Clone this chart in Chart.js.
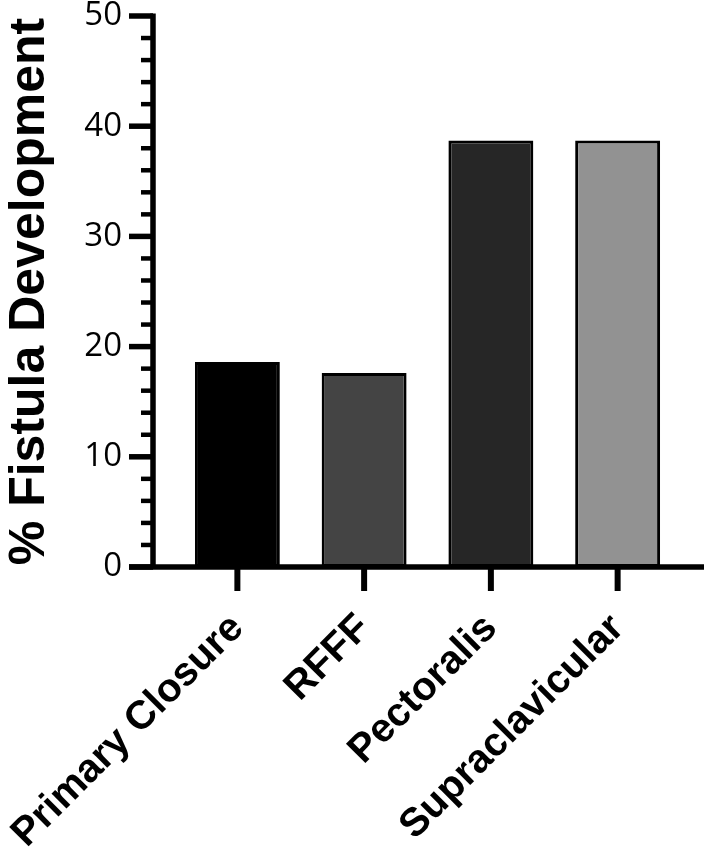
<!DOCTYPE html>
<html>
<head>
<meta charset="utf-8">
<script src="https://cdn.jsdelivr.net/npm/chart.js@4.4.1/dist/chart.umd.min.js"></script>
<style>
  html, body { margin: 0; padding: 0; background: #fff; }
  #wrap { width: 709px; height: 862px; position: relative; }
</style>
</head>
<body>
<div id="wrap"><canvas id="fistulaChart"></canvas></div>
<script>
// data
const categories = ['Primary Closure', 'RFFF', 'Pectoralis', 'Supraclavicular'];
const fistulaPct = [18.6, 17.6, 38.7, 38.7];
const barFills = ['#000000', '#444444', '#262626', '#929292'];
const yMin = 0;
const yMax = 50;
const yMajorStep = 10;
const yMinorStep = 2;

// axes drawn by hand: prism-style offset y axis, extended x axis, minor ticks
const prismAxes = {
  id: 'prismAxes',
  afterDatasetsDraw(chart) {
    const { ctx, chartArea, scales } = chart;
    const y = scales.y, x = scales.x;
    const axisX = chartArea.left - 21;
    const zeroY = y.getPixelForValue(yMin);
    ctx.save();
    ctx.strokeStyle = '#000';
    ctx.lineCap = 'butt';

    // y axis line
    ctx.lineWidth = 5.5;
    ctx.beginPath();
    ctx.moveTo(axisX, y.getPixelForValue(yMax) - 2.5);
    ctx.lineTo(axisX, zeroY);
    ctx.stroke();

    // minor ticks
    ctx.lineWidth = 4.5;
    for (let v = yMin; v <= yMax; v += yMinorStep) {
      if (v % yMajorStep === 0) continue;
      const py = y.getPixelForValue(v);
      ctx.beginPath();
      ctx.moveTo(axisX - 12, py);
      ctx.lineTo(axisX, py);
      ctx.stroke();
    }
    // major ticks
    ctx.lineWidth = 5.5;
    for (let v = yMin; v <= yMax; v += yMajorStep) {
      const py = y.getPixelForValue(v);
      ctx.beginPath();
      ctx.moveTo(axisX - 24, py);
      ctx.lineTo(axisX, py);
      ctx.stroke();
    }

    // x axis line
    ctx.beginPath();
    ctx.moveTo(axisX - 24, zeroY);
    ctx.lineTo(chartArea.right + 23, zeroY);
    ctx.stroke();

    // x ticks
    ctx.lineWidth = 6;
    categories.forEach((c, i) => {
      const px = x.getPixelForValue(i);
      ctx.beginPath();
      ctx.moveTo(px, zeroY);
      ctx.lineTo(px, zeroY + 24);
      ctx.stroke();
    });
    ctx.restore();
  }
};

// keep rotated labels from pushing the plot area around
function noPadding(scale) {
  scale.paddingLeft = 0;
  scale.paddingRight = 0;
  scale.paddingTop = 0;
  scale.paddingBottom = 0;
}

const chartCtx = document.getElementById('fistulaChart');
new Chart(chartCtx, {
  type: 'bar',
  data: {
    labels: categories,
    datasets: [{
      label: '% Fistula Development',
      data: fistulaPct,
      backgroundColor: barFills,
      borderColor: '#000000',
      borderWidth: 3,
      borderSkipped: false,
      barPercentage: 0.67,
      categoryPercentage: 1.0
    }]
  },
  options: {
    responsive: true,
    maintainAspectRatio: false,
    animation: false,
    layout: { autoPadding: false, padding: { top: 16, right: 28, left: 0, bottom: 0 } },
    plugins: {
      legend: { display: false },
      tooltip: { enabled: false }
    },
    scales: {
      x: {
        offset: true,
        grid: { display: false, drawTicks: false },
        border: { display: false },
        ticks: {
          color: '#000',
          autoSkip: false,
          minRotation: 45,
          maxRotation: 45,
          padding: 38,
          font: { family: '"Liberation Sans", Arial, sans-serif', size: 40, weight: 'bold' }
        },
        afterFit: (scale) => { scale.height = 295; noPadding(scale); }
      },
      y: {
        min: yMin,
        max: yMax,
        grid: { display: false, drawTicks: false },
        border: { display: false },
        ticks: {
          stepSize: yMajorStep,
          color: '#000',
          padding: 52,
          font: { family: '"Open Sans", sans-serif', size: 33, lineHeight: 1.0 }
        },
        title: {
          display: true,
          text: '% Fistula Development',
          color: '#000',
          padding: 0,
          font: { family: '"Liberation Sans", Arial, sans-serif', size: 50, weight: 'bold' }
        },
        afterFit: (scale) => { scale.width = 174; noPadding(scale); }
      }
    }
  },
  plugins: [prismAxes]
});
</script>
</body>
</html>
